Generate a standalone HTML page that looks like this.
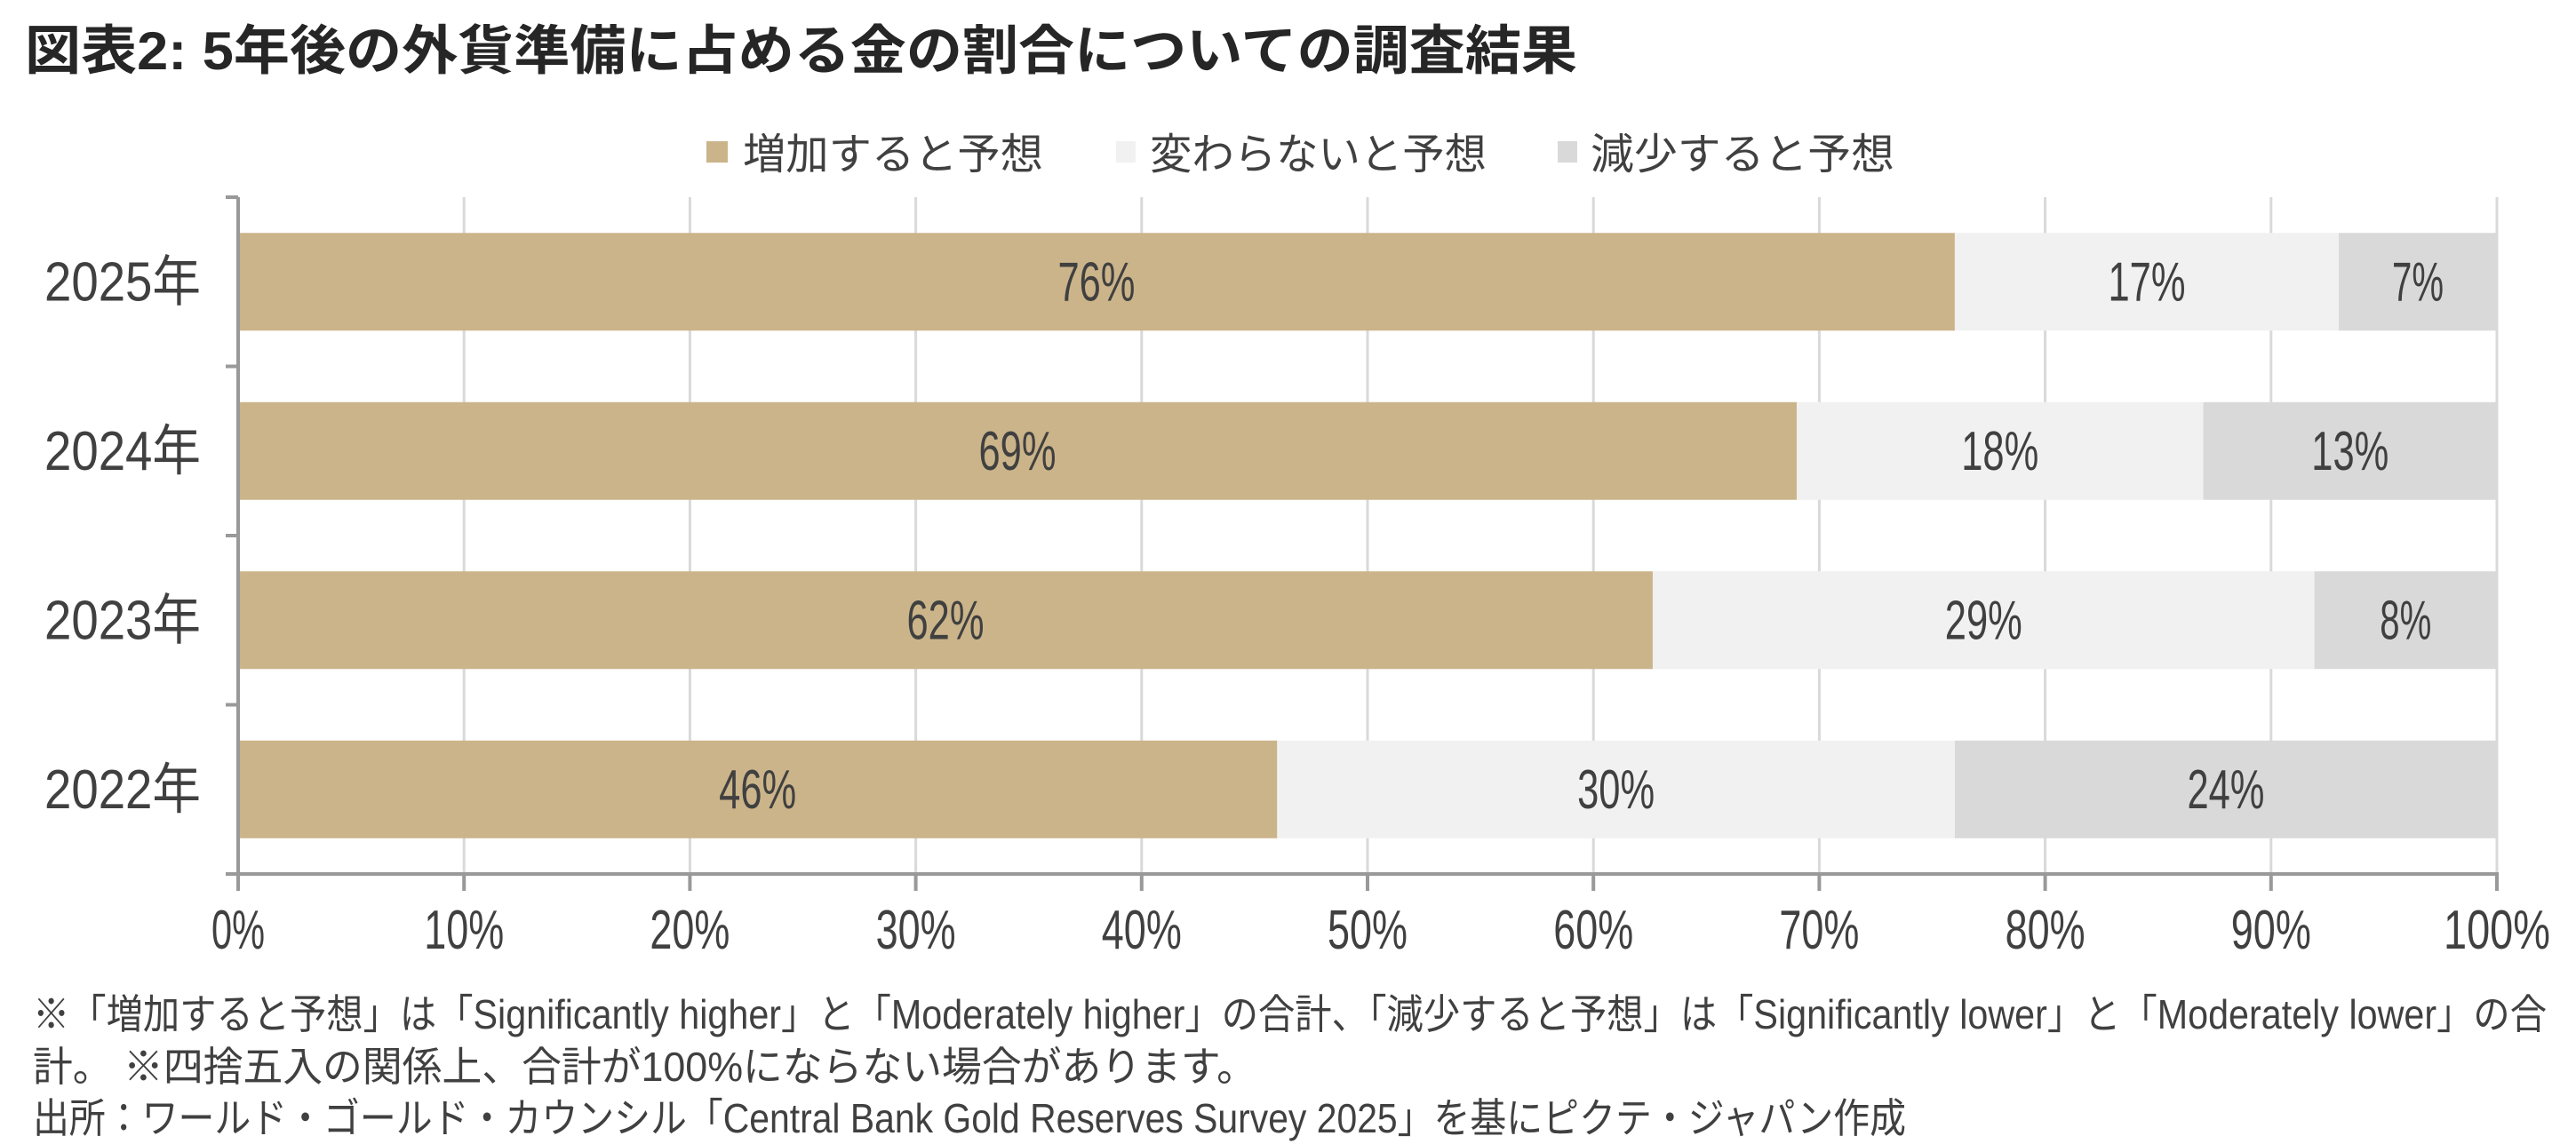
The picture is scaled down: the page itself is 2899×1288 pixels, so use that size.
<!DOCTYPE html>
<html><head><meta charset="utf-8"><style>
html,body{margin:0;padding:0;background:#fff;}
svg{display:block;}
text{font-family:"Liberation Sans","Noto Sans CJK JP",sans-serif;fill:#404040;}
</style></head><body>
<svg id="chart" width="2899" height="1288" viewBox="0 0 2899 1288" xmlns="http://www.w3.org/2000/svg">
<text x="28" y="78" font-size="60" font-weight="bold" style="fill:#262626" textLength="1747" lengthAdjust="spacingAndGlyphs">図表2: 5年後の外貨準備に占める金の割合についての調査結果</text>
<g>
<rect x="795" y="159" width="24" height="24" fill="#CBB48A"/>
<text x="836" y="190" font-size="48" textLength="338" lengthAdjust="spacingAndGlyphs">増加すると予想</text>
<rect x="1256" y="159" width="22" height="24" fill="#F1F1F1"/>
<text x="1294" y="190" font-size="48" textLength="379" lengthAdjust="spacingAndGlyphs">変わらないと予想</text>
<rect x="1753" y="159" width="22" height="24" fill="#D9D9D9"/>
<text x="1790" y="190" font-size="48" textLength="342" lengthAdjust="spacingAndGlyphs">減少すると予想</text>
</g>
<g id="grid"></g>
<g id="bars"></g>
<g id="axes"></g>
<g>
<text x="37" y="1158" font-size="46" textLength="2829" lengthAdjust="spacingAndGlyphs">※「増加すると予想」は「Significantly higher」と「Moderately higher」の合計、「減少すると予想」は「Significantly lower」と「Moderately lower」の合</text>
<text x="37" y="1217" font-size="46" textLength="1377" lengthAdjust="spacingAndGlyphs">計。 ※四捨五入の関係上、合計が100%にならない場合があります。</text>
<text x="37" y="1275" font-size="46" textLength="2108" lengthAdjust="spacingAndGlyphs">出所：ワールド・ゴールド・カウンシル「Central Bank Gold Reserves Survey 2025」を基にピクテ・ジャパン作成</text>
</g>
</svg>
<script>
const categories = ["2025年","2024年","2023年","2022年"];
const increaseVals = [76,69,62,46];
const unchangedVals = [17,18,29,30];
const decreaseVals = [7,13,8,24];
const xTicks = [0,10,20,30,40,50,60,70,80,90,100];
const xTickLabels = ["0%","10%","20%","30%","40%","50%","60%","70%","80%","90%","100%"];

const NS = "http://www.w3.org/2000/svg";
const X0 = 268, X1 = 2810, YT = 222, YB = 984;
const band = (YB - YT) / categories.length;
const barH = 110;
function xScale(p){ return X0 + (X1 - X0) * p / 100; }
function yCenter(i){ return YT + band * (i + 0.5); }
function mk(tag, attrs, parent){ const e = document.createElementNS(NS, tag); for (const k in attrs) e.setAttribute(k, attrs[k]); parent.appendChild(e); return e; }

const grid = document.getElementById('grid');
const bars = document.getElementById('bars');
const axes = document.getElementById('axes');

xTicks.forEach((t, i) => {
  if (t === 0) return;
  const l = mk('line', {x1: xScale(t), x2: xScale(t), y1: YT, y2: YB, stroke: '#D9D9D9', 'stroke-width': 3}, grid);
  
  
});

const series = [
  {vals: increaseVals, color: '#CBB48A', name: 'increase'},
  {vals: unchangedVals, color: '#F1F1F1', name: 'unchanged'},
  {vals: decreaseVals, color: '#D9D9D9', name: 'decrease'}
];
categories.forEach((c, i) => {
  const total = increaseVals[i] + unchangedVals[i] + decreaseVals[i];
  let cum = 0;
  const cy = yCenter(i);
  series.forEach(s => {
    const v = s.vals[i];
    const a = cum / total * 100, b = (cum + v) / total * 100;
    cum += v;
    const r = mk('rect', {x: xScale(a), y: cy - barH/2, width: xScale(b) - xScale(a), height: barH, fill: s.color}, bars);
    
    
    const label = v + '%';
    const t = mk('text', {x: (xScale(a) + xScale(b)) / 2, y: cy + 21, 'font-size': 62, 'text-anchor': 'middle', textLength: label.length * 29, lengthAdjust: 'spacingAndGlyphs'}, bars);
    t.textContent = label;
    
    
  });
  const yl = mk('text', {x: 226, y: cy + 21, 'font-size': 62, 'text-anchor': 'end', textLength: 176, lengthAdjust: 'spacingAndGlyphs'}, axes);
  yl.textContent = c;
  
  
});

// axes
const ya = mk('line', {x1: X0, x2: X0, y1: YT, y2: YB + 2, stroke: '#999', 'stroke-width': 4}, axes);


for (let i = 0; i <= categories.length; i++) {
  const y = YT + band * i;
  const tk = mk('line', {x1: 254, x2: X0, y1: y, y2: y, stroke: '#999', 'stroke-width': 4}, axes);
  
  
}
const xa = mk('line', {x1: 254, x2: X1 + 2, y1: YB, y2: YB, stroke: '#999', 'stroke-width': 4}, axes);


xTicks.forEach((t, i) => {
  const tk = mk('line', {x1: xScale(t), x2: xScale(t), y1: YB, y2: 1003, stroke: '#999', 'stroke-width': 4}, axes);
  
  
  const lab = xTickLabels[i];
  const tl = mk('text', {x: xScale(t), y: 1068, 'font-size': 62, 'text-anchor': 'middle', textLength: lab.length * 30, lengthAdjust: 'spacingAndGlyphs'}, axes);
  tl.textContent = lab;
  
  
});
</script>
</body></html>
